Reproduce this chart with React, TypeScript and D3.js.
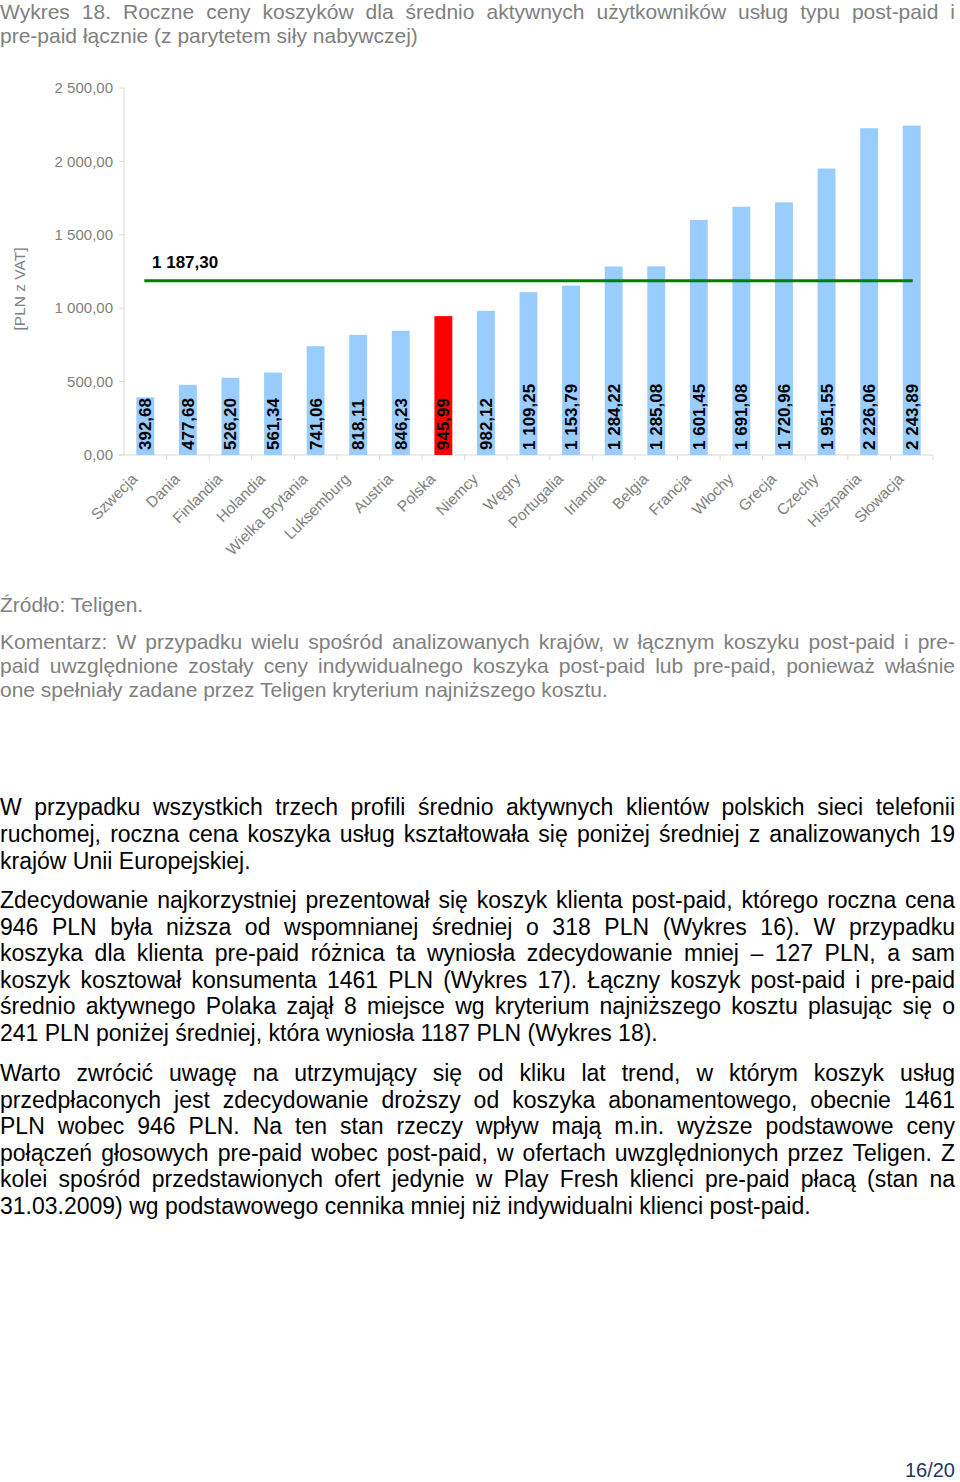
import React, { useLayoutEffect, useRef } from "react";
import * as d3 from "d3";

const categories = ["Szwecja","Dania","Finlandia","Holandia","Wielka Brytania","Luksemburg","Austria","Polska","Niemcy","Węgry","Portugalia","Irlandia","Belgia","Francja","Włochy","Grecja","Czechy","Hiszpania","Słowacja"];
const values = [392.68,477.68,526.2,561.34,741.06,818.11,846.23,945.99,982.12,1109.25,1153.79,1284.22,1285.08,1601.45,1691.08,1720.96,1951.55,2226.06,2243.89];
const highlight = "Polska";
const average = 1187.3;
const yTicks = [0,500,1000,1500,2000,2500];

const titleLines = [
  "Wykres 18. Roczne ceny koszyków dla średnio aktywnych użytkowników usług typu post-paid i",
  "pre-paid łącznie (z parytetem siły nabywczej)",
];
const sourceLine = "Źródło: Teligen.";
const commentLines = [
  "Komentarz: W przypadku wielu spośród analizowanych krajów, w łącznym koszyku post-paid i pre-",
  "paid uwzględnione zostały ceny indywidualnego koszyka post-paid lub pre-paid, ponieważ właśnie",
  "one spełniały zadane przez Teligen kryterium najniższego kosztu.",
];
const para1 = [
  "W przypadku wszystkich trzech profili średnio aktywnych klientów polskich sieci telefonii",
  "ruchomej, roczna cena koszyka usług kształtowała się poniżej średniej z analizowanych 19",
  "krajów Unii Europejskiej.",
];
const para2 = [
  "Zdecydowanie najkorzystniej prezentował się koszyk klienta post-paid, którego roczna cena",
  "946 PLN była niższa od wspomnianej średniej o 318 PLN (Wykres 16). W przypadku",
  "koszyka dla klienta pre-paid różnica ta wyniosła zdecydowanie mniej – 127 PLN, a sam",
  "koszyk kosztował konsumenta 1461 PLN (Wykres 17). Łączny koszyk post-paid i pre-paid",
  "średnio aktywnego Polaka zajął 8 miejsce wg kryterium najniższego kosztu plasując się o",
  "241 PLN poniżej średniej, która wyniosła 1187 PLN (Wykres 18).",
];
const para3 = [
  "Warto zwrócić uwagę na utrzymujący się od kliku lat trend, w którym koszyk usług",
  "przedpłaconych jest zdecydowanie droższy od koszyka abonamentowego, obecnie 1461",
  "PLN wobec 946 PLN. Na ten stan rzeczy wpływ mają m.in. wyższe podstawowe ceny",
  "połączeń głosowych pre-paid wobec post-paid, w ofertach uwzględnionych przez Teligen. Z",
  "kolei spośród przedstawionych ofert jedynie w Play Fresh klienci pre-paid płacą (stan na",
  "31.03.2009) wg podstawowego cennika mniej niż indywidualni klienci post-paid.",
];

const FONT = "'Liberation Sans', Arial, Helvetica, sans-serif";
const TEXT_W = 955;

function fmt(v: number): string {
  const s = v.toFixed(2).replace(".", ",");
  const [int, dec] = s.split(",");
  const withSp = int.replace(/\B(?=(\d{3})+(?!\d))/g, " ");
  return withSp + "," + dec;
}

function JLine({ text, x, y, size, color, justify }: { text: string; x: number; y: number; size: number; color: string; justify: boolean }) {
  const ref = useRef<SVGTextElement>(null);
  useLayoutEffect(() => {
    const el = ref.current;
    if (!el || !justify) return;
    el.style.wordSpacing = "0px";
    const len = el.getComputedTextLength();
    const spaces = (text.match(/ /g) || []).length;
    if (spaces > 0) {
      el.style.wordSpacing = ((TEXT_W - len) / spaces) + "px";
    }
  }, [text, justify]);
  return (
    <text ref={ref} x={x} y={y} fontSize={size} fill={color} fontFamily={FONT} style={{ whiteSpace: "pre" }}>
      {text}
    </text>
  );
}

function Block({ lines, y0, lh, size, color }: { lines: string[]; y0: number; lh: number; size: number; color: string }) {
  return (
    <g>
      {lines.map((l, i) => (
        <JLine key={i} text={l} x={0} y={y0 + i * lh} size={size} color={color} justify={i < lines.length - 1} />
      ))}
    </g>
  );
}

export default function App() {
  const left = 124, right = 933, top = 88, bottom = 455;
  const x = d3.scaleBand<string>().domain(categories).range([left, right]).paddingInner(0.58).paddingOuter(0.29);
  const xb = d3.scaleBand<string>().domain(categories).range([left, right]);
  const y = d3.scaleLinear().domain([0, 2500]).range([bottom, top]);
  const gray = "#808080";
  const first = categories[0], last = categories[categories.length - 1];
  const avgX1 = (xb(first) as number) + xb.bandwidth() / 2 - 1;
  const avgX2 = (xb(last) as number) + xb.bandwidth() / 2 + 1;

  return (
    <svg width={960} height={1482} style={{ position: "absolute", left: 0, top: 0, display: "block", background: "#fff" }}>
      <Block lines={titleLines} y0={19} lh={24} size={21} color={gray} />

      {/* chart */}
      <g>
        <line x1={left} x2={left} y1={top} y2={bottom} stroke="#d9d9d9" strokeWidth={1} />
        {yTicks.map((t) => (
          <g key={t}>
            <line x1={left - 5} x2={left} y1={y(t)} y2={y(t)} stroke="#d9d9d9" />
            <text x={113} y={y(t)} dy="0.35em" textAnchor="end" fontSize={15} fill={gray} fontFamily={FONT}>
              {fmt(t)}
            </text>
          </g>
        ))}
        <text transform={`translate(25,289) rotate(-90)`} textAnchor="middle" fontSize={15.5} fill={gray} fontFamily={FONT}>
          [PLN z VAT]
        </text>
        <line x1={left - 5} x2={right} y1={bottom} y2={bottom} stroke="#d9d9d9" strokeWidth={1} />
        {categories.map((c) => (
          <line key={"t" + c} x1={(xb(c) as number) + xb.bandwidth()} x2={(xb(c) as number) + xb.bandwidth()} y1={bottom} y2={bottom + 5} stroke="#d9d9d9" />
        ))}
        {categories.map((c, i) => (
          <rect key={c} x={x(c)} y={y(values[i])} width={x.bandwidth()} height={bottom - y(values[i])} fill={c === highlight ? "#ff0000" : "#99ccff"} />
        ))}
        <line x1={avgX1} x2={avgX2} y1={y(average)} y2={y(average)} stroke="#008000" strokeWidth={3} />
        <text x={152} y={y(average) - 13} fontSize={17} fontWeight="bold" fill="#000" fontFamily={FONT}>
          {fmt(average)}
        </text>
        {categories.map((c, i) => {
          const cx = (x(c) as number) + x.bandwidth() / 2;
          return (
            <text key={"v" + c} transform={`translate(${cx + 6},${bottom - 5}) rotate(-90)`} fontSize={17} fontWeight="bold" fill="#000" fontFamily={FONT}>
              {fmt(values[i])}
            </text>
          );
        })}
        {categories.map((c) => {
          const cx = (xb(c) as number) + xb.bandwidth() / 2;
          return (
            <text key={"c" + c} transform={`translate(${cx - 7},${bottom + 25}) rotate(-45)`} textAnchor="end" fontSize={15.5} fill={gray} fontFamily={FONT}>
              {c}
            </text>
          );
        })}
      </g>

      <text x={0} y={612} fontSize={21} fill={gray} fontFamily={FONT}>{sourceLine}</text>
      <Block lines={commentLines} y0={649} lh={24} size={21} color={gray} />
      <Block lines={para1} y0={815} lh={26.8} size={23} color="#000" />
      <Block lines={para2} y0={908} lh={26.6} size={23} color="#000" />
      <Block lines={para3} y0={1081} lh={26.6} size={23} color="#000" />
      <text x={955} y={1477} textAnchor="end" fontSize={20} fill="#1f3864" fontFamily={FONT}>16/20</text>
    </svg>
  );
}
